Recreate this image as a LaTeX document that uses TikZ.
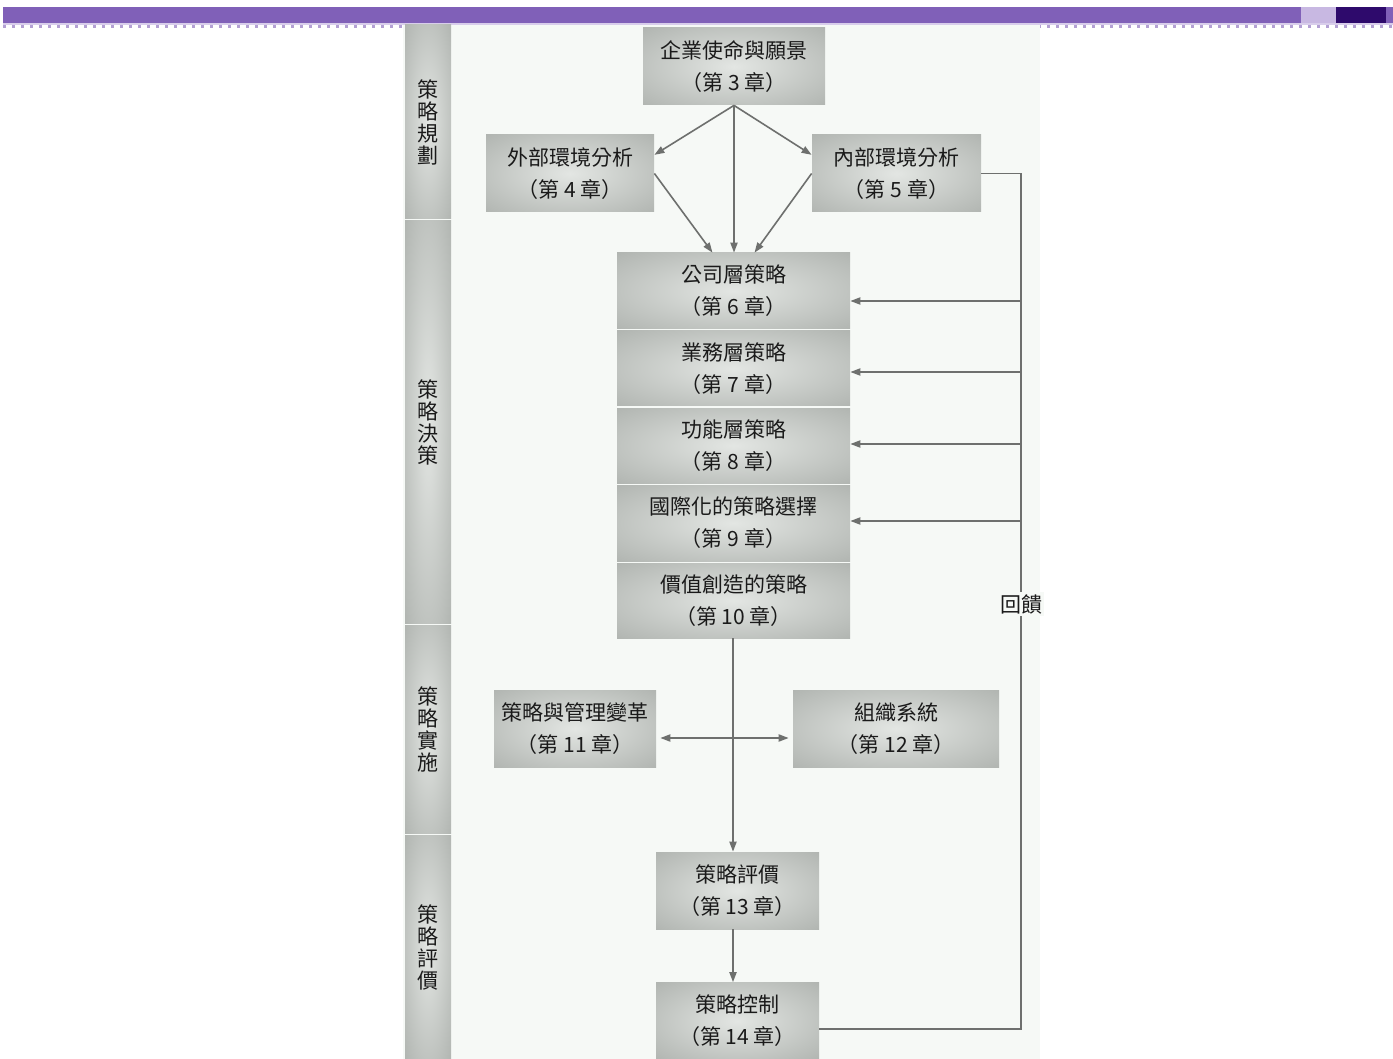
\documentclass[tikz,border=0pt]{standalone}
\usepackage{fontspec}
\setmainfont{Noto Sans CJK TC}
\usetikzlibrary{arrows.meta,calc}
\definecolor{boxin}{HTML}{E3E6E3}
\definecolor{boxmid}{HTML}{B6BAB6}
\definecolor{boxout}{HTML}{9CA09C}
\definecolor{panel}{HTML}{F6F9F6}
\definecolor{purp}{HTML}{8060B8}
\definecolor{lpurp}{HTML}{C8B8E2}
\definecolor{dpurp}{HTML}{2E0A6C}
\definecolor{linec}{HTML}{6E706E}
\definecolor{txt}{HTML}{1A1A1A}
\pgfdeclareradialshading{boxshade}{\pgfpointorigin}{color(0bp)=(boxin); color(14bp)=(boxin!55!boxmid); color(32bp)=(boxmid); color(50bp)=(boxout)}
\tikzset{
  box/.style={shade, shading=boxshade, inner sep=0pt, align=center, text=txt,
    font=\fontsize{10.5pt}{16pt}\selectfont, minimum height=38.5pt},
  phase/.style={shade, shading=boxshade, inner sep=0pt, align=center, text=txt,
    font=\fontsize{10.5pt}{11pt}\selectfont, minimum width=23pt},
  conn/.style={draw=linec, line width=0.8pt},
  arr/.style={conn, -{Triangle[length=5pt,width=3.6pt]}},
  dbl/.style={conn, {Triangle[length=5pt,width=3.6pt]}-{Triangle[length=5pt,width=3.6pt]}},
}
\begin{document}
\begin{tikzpicture}[x=0.5pt,y=-0.5pt]
\useasboundingbox (0,0) rectangle (1393,1059);
% header bar
\fill[purp] (3,7) rectangle (1301,23);
\fill[lpurp] (1301,7) rectangle (1336,23);
\fill[dpurp] (1336,7) rectangle (1386,23);
\fill[purp] (1386,7) rectangle (1393,23);
\fill[lpurp!70] (3,23) rectangle (1393,25);
\draw[purp!60, line width=1.5pt, dash pattern=on 1.5pt off 3pt] (3,27) -- (1393,27);
% panel
\fill[panel] (403,25) rectangle (1040,1059);
% phase column
\node[phase, minimum height=97pt]  (p1) at (428,122) {策\\略\\規\\劃};
\node[phase, minimum height=201pt] (p2) at (428,422) {策\\略\\決\\策};
\node[phase, minimum height=104pt] (p3) at (428,729) {策\\略\\實\\施};
\node[phase, minimum height=112pt] (p4) at (428,947) {策\\略\\評\\價};
% boxes
\node[box, minimum width=91pt]   (n3) at (734,66.5) {企業使命與願景\\（第 3 章）};
\node[box, minimum width=84pt]   (n4) at (570,173.5) {外部環境分析\\（第 4 章）};
\node[box, minimum width=84.5pt] (n5) at (896.5,173.5) {內部環境分析\\（第 5 章）};
\node[box, minimum width=116.5pt, minimum height=38pt]   (n6) at (733.5,291) {公司層策略\\（第 6 章）};
\node[box, minimum width=116.5pt, minimum height=37.5pt] (n7) at (733.5,368.5) {業務層策略\\（第 7 章）};
\node[box, minimum width=116.5pt, minimum height=37.5pt] (n8) at (733.5,445.5) {功能層策略\\（第 8 章）};
\node[box, minimum width=116.5pt, minimum height=38pt]   (n9) at (733.5,523) {國際化的策略選擇\\（第 9 章）};
\node[box, minimum width=116.5pt, minimum height=37.5pt] (n10) at (733.5,600.5) {價值創造的策略\\（第 10 章）};
\node[box, minimum width=81pt]  (n11) at (575,728.5) {策略與管理變革\\（第 11 章）};
\node[box, minimum width=103pt] (n12) at (896,728.5) {組織系統\\（第 12 章）};
\node[box, minimum width=81.5pt] (n13) at (737.5,890.5) {策略評價\\（第 13 章）};
\node[box, minimum width=81.5pt] (n14) at (737.5,1021) {策略控制\\（第 14 章）};
% top arrows
\draw[arr] (n3.south) -- ($(n4.north east)!0.26!(n4.south east)$);
\draw[arr] (n3.south) -- ($(n5.north west)!0.26!(n5.south west)$);
\draw[arr] (n3.south) -- (n3.south |- n6.north);
\draw[arr] (n4.east) -- ($(n6.north west)!0.41!(n6.north east)$);
\draw[arr] (n5.west) -- ($(n6.north west)!0.59!(n6.north east)$);
% feedback loop
\coordinate (fbtop) at (1021,173.5);
\coordinate (fbbot) at (1021,1029);
\draw[conn] (n5.east) -- (fbtop) -- (fbbot) -- (fbbot -| n14.east);
\node[fill=panel, text=txt, font=\fontsize{10.5pt}{12pt}\selectfont, inner sep=1pt] (fb) at (1021,604) {回饋};
\coordinate (f6) at ($(n6.east)+(0,10)$);
\coordinate (f7) at ($(n7.east)+(0,3.5)$);
\coordinate (f8) at ($(n8.east)+(0,-1.5)$);
\coordinate (f9) at ($(n9.east)+(0,-2)$);
\draw[arr] (f6 -| fbtop) -- (f6);
\draw[arr] (f7 -| fbtop) -- (f7);
\draw[arr] (f8 -| fbtop) -- (f8);
\draw[arr] (f9 -| fbtop) -- (f9);
% central flow
\coordinate (cx) at (733,738);
\coordinate (c11) at (cx -| n11.east);
\coordinate (c12) at (cx -| n12.west);
\draw[arr] (n10.south -| cx) -- (cx |- n13.north);
\draw[dbl] ([xshift=2pt]c11) -- ([xshift=-2pt]c12);
\draw[arr] (cx |- n13.south) -- (cx |- n14.north);
\end{tikzpicture}
\end{document}
